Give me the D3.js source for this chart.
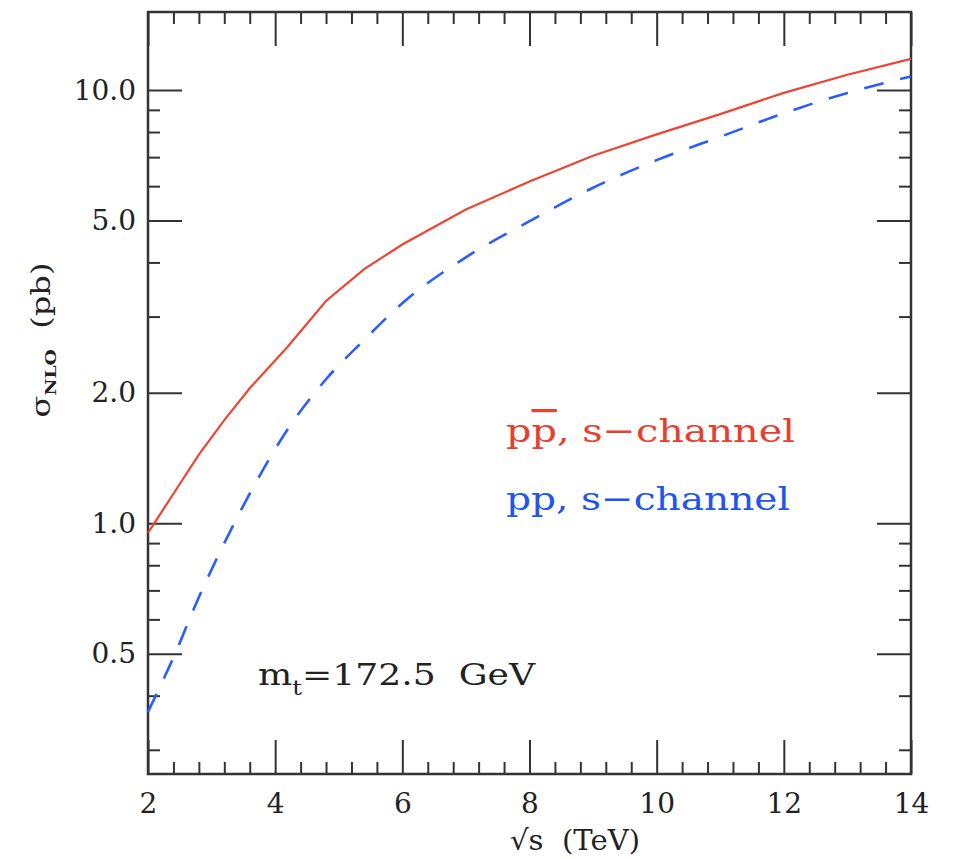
<!DOCTYPE html>
<html>
<head>
<meta charset="utf-8">
<script src="https://cdn.jsdelivr.net/npm/d3@7"></script>
<style>
  body { margin: 0; background: #fff; }
  text { font-family: "DejaVu Serif", serif; fill: #222; }
</style>
</head>
<body>
<script>
// sqrt(s) in TeV
var energies = [2.0, 2.4, 2.8, 3.2, 3.6, 4.2, 4.8, 5.4, 6.0, 7.0, 8.0, 9.0, 10.0, 11.0, 12.0, 13.0, 14.0];
// sigma_NLO (pb), p pbar s-channel (solid red)
var ppbar = [0.95, 1.17, 1.44, 1.73, 2.05, 2.56, 3.26, 3.86, 4.40, 5.30, 6.15, 7.05, 7.90, 8.80, 9.85, 10.85, 11.8];
// sigma_NLO (pb), pp s-channel (dashed blue)
var ppS = [0.367, 0.49, 0.675, 0.90, 1.17, 1.65, 2.15, 2.65, 3.22, 4.11, 4.98, 5.95, 6.89, 7.80, 8.84, 9.85, 10.75];

var xMajor = [2, 4, 6, 8, 10, 12, 14];
var xMinor = d3.range(2, 14.01, 0.4).filter(function(v){ return Math.abs(v/2 - Math.round(v/2)) > 0.01; });
var yMajor = [0.5, 1, 2, 5, 10];
var yMinor = [0.3, 0.4, 0.6, 0.7, 0.8, 0.9, 3, 4, 6, 7, 8, 9];

var width = 954, height = 859;
var m = {left: 148, top: 12, right: 43, bottom: 85};
var w = width - m.left - m.right;
var h = height - m.top - m.bottom;

var svg = d3.select('body').append('svg')
  .attr('width', width)
  .attr('height', height);

var g = svg.append('g').attr('transform', 'translate(' + m.left + ',' + m.top + ')');

var x = d3.scaleLinear().domain([2, 14]).range([0, w]);
var y = d3.scaleLog().domain([0.2638, 15.14]).range([h, 0]);

var bigTick = 34, smallTick = 12;

function styleAxis(sel) {
  sel.select('.domain').remove();
  sel.selectAll('.tick line').attr('stroke', '#333').attr('stroke-width', 2);
  sel.selectAll('.tick text').style('font-size', '28px').attr('fill', '#222');
}

// bottom
g.append('g').attr('transform', 'translate(0,' + h + ')')
  .call(d3.axisBottom(x).tickValues(xMajor).tickSize(-bigTick).tickPadding(19).tickFormat(d3.format('d')))
  .call(styleAxis);
g.append('g').attr('transform', 'translate(0,' + h + ')')
  .call(d3.axisBottom(x).tickValues(xMinor).tickSize(-smallTick).tickFormat(''))
  .call(styleAxis);
// top
g.append('g')
  .call(d3.axisBottom(x).tickValues(xMajor).tickSize(bigTick).tickFormat(''))
  .call(styleAxis);
g.append('g')
  .call(d3.axisBottom(x).tickValues(xMinor).tickSize(smallTick).tickFormat(''))
  .call(styleAxis);
// left
g.append('g')
  .call(d3.axisLeft(y).tickValues(yMajor).tickSize(-bigTick).tickPadding(12).tickFormat(d3.format('.1f')))
  .call(styleAxis);
g.append('g')
  .call(d3.axisLeft(y).tickValues(yMinor).tickSize(-smallTick).tickFormat(''))
  .call(styleAxis);
// right
g.append('g').attr('transform', 'translate(' + w + ',0)')
  .call(d3.axisLeft(y).tickValues(yMajor).tickSize(bigTick).tickFormat(''))
  .call(styleAxis);
g.append('g').attr('transform', 'translate(' + w + ',0)')
  .call(d3.axisLeft(y).tickValues(yMinor).tickSize(smallTick).tickFormat(''))
  .call(styleAxis);

// frame
g.append('rect')
  .attr('width', w).attr('height', h)
  .attr('fill', 'none')
  .attr('stroke', '#333')
  .attr('stroke-width', 2.5);

var line = d3.line()
  .x(function(d, i) { return x(energies[i]); })
  .y(function(d) { return y(d); })
  .curve(d3.curveLinear);

g.append('path')
  .attr('d', line(ppbar))
  .attr('fill', 'none')
  .attr('stroke', '#ee4433')
  .attr('stroke-width', 2.2);

g.append('path')
  .attr('d', line.curve(d3.curveMonotoneX)(ppS))
  .attr('fill', 'none')
  .attr('stroke', '#2a5cff')
  .attr('stroke-width', 2.6)
  .attr('stroke-dasharray', '20,17');

// labels in plot
var lab1 = svg.append('text')
  .attr('x', 506).attr('y', 442)
  .attr('textLength', 289).attr('lengthAdjust', 'spacingAndGlyphs')
  .style('font-size', '32px').style('fill', '#e8402f')
  .attr('xml:space', 'preserve');
lab1.append('tspan').text('p');
lab1.append('tspan').style('text-decoration', 'overline').text('p');
lab1.append('tspan').text(', s\u2212channel');

svg.append('text')
  .attr('x', 506).attr('y', 510)
  .attr('textLength', 284).attr('lengthAdjust', 'spacingAndGlyphs')
  .style('font-size', '32px').style('fill', '#2255ee')
  .text('pp, s\u2212channel');

var mt = svg.append('text')
  .attr('x', 258).attr('y', 685)
  .attr('textLength', 277).attr('lengthAdjust', 'spacingAndGlyphs')
  .style('font-size', '30px')
  .attr('xml:space', 'preserve');
mt.append('tspan').text('m');
mt.append('tspan').attr('dy', 10).style('font-size', '20px').text('t');
mt.append('tspan').attr('dy', -10).text('=172.5  GeV');

// axis titles
svg.append('text')
  .attr('x', 575).attr('y', 850)
  .attr('text-anchor', 'middle')
  .attr('textLength', 130).attr('lengthAdjust', 'spacingAndGlyphs')
  .style('font-size', '28px')
  .attr('xml:space', 'preserve')
  .text('\u221As  (TeV)');

var yt = svg.append('text')
  .attr('transform', 'translate(50,340) rotate(-90)')
  .attr('text-anchor', 'middle')
  .attr('textLength', 155).attr('lengthAdjust', 'spacingAndGlyphs')
  .style('font-size', '26px')
  .attr('xml:space', 'preserve');
yt.append('tspan').text('\u03C3');
yt.append('tspan').attr('dy', 6).style('font-size', '15px').style('font-weight', 'bold').text('NLO');
yt.append('tspan').attr('dy', -6).text('  (pb)');
</script>
</body>
</html>
